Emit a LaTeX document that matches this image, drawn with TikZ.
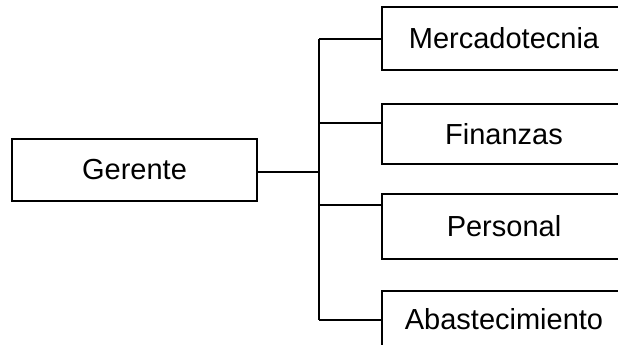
\documentclass[tikz,border=0pt]{standalone}
\usepackage{fontspec}
\setmainfont{Liberation Sans}
\begin{document}
\begin{tikzpicture}[x=1pt,y=-1pt,
  unit/.style={draw, line width=2.6pt, rectangle, inner sep=0pt,
    font=\fontsize{29}{34}\selectfont, text=black},
  link/.style={line width=2.5pt}]
\useasboundingbox (0,0) rectangle (618,345);
\clip (0,0) rectangle (618,345);
\fill[white] (0,0) rectangle (618,345);

% head of the organisation
\node[unit, minimum width=245pt, minimum height=62pt] (ger) at (134.5,170) {Gerente};

% departments (their right side runs past the page edge)
\node[unit, minimum width=244pt, minimum height=63pt] (mer) at (504,38.5) {Mercadotecnia};
\node[unit, minimum width=244pt, minimum height=60pt] (fin) at (504,134) {Finanzas};
\node[unit, minimum width=244pt, minimum height=65pt] (per) at (504,226.5) {Personal};
\node[unit, minimum width=244pt, minimum height=57pt] (aba) at (504,319.5) {Abastecimiento};

% vertical trunk and its junctions
\coordinate (j1) at (319,39);
\coordinate (j2) at (319,123);
\coordinate (jg) at (319,172);
\coordinate (j3) at (319,205);
\coordinate (j4) at (319,320);

\draw[link] (j1) -- (j4);
\draw[link] (ger.east |- jg) -- (jg);
\draw[link] (j1) -- (j1 -| mer.west);
\draw[link] (j2) -- (j2 -| fin.west);
\draw[link] (j3) -- (j3 -| per.west);
\draw[link] (j4) -- (j4 -| aba.west);
\end{tikzpicture}
\end{document}
